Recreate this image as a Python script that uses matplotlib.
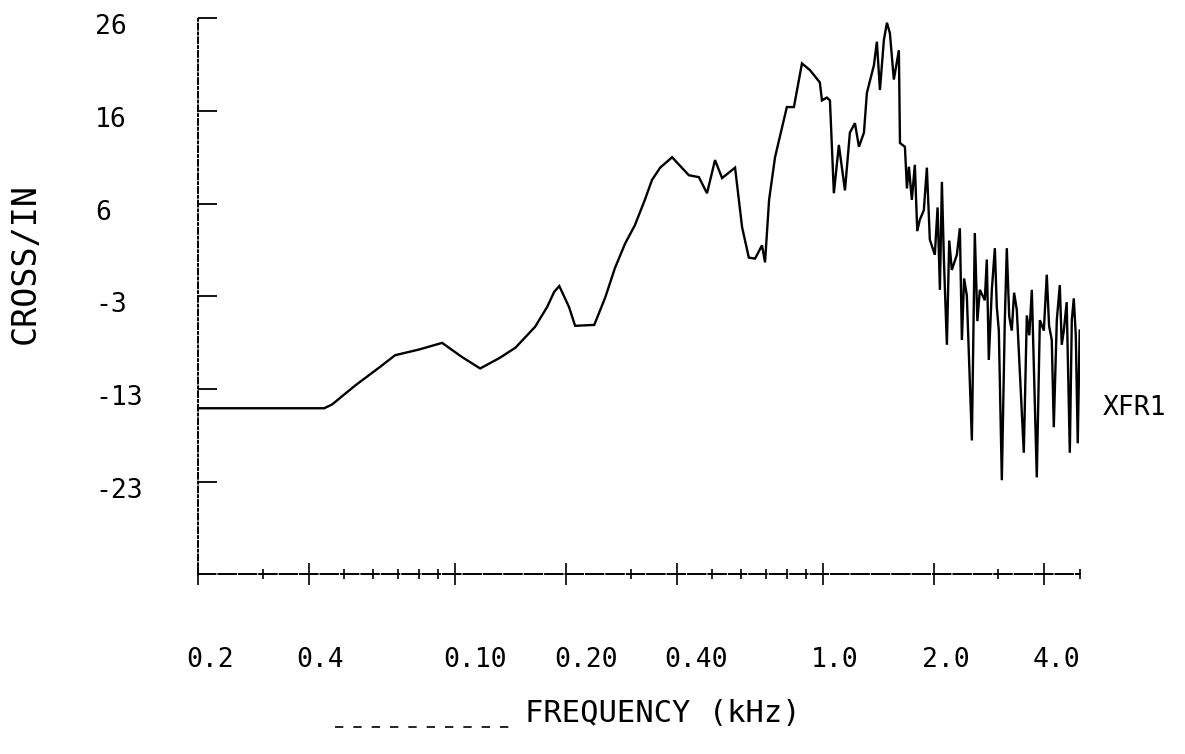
import numpy as np
import matplotlib.pyplot as plt
from matplotlib.transforms import blended_transform_factory, ScaledTranslation
from matplotlib.lines import Line2D

# frequency (kHz) and CROSS/IN level
freq = [0.0202, 0.0441, 0.0463, 0.0535, 0.0622, 0.0687, 0.0798, 0.0922, 0.1045, 0.117,
        0.132, 0.146, 0.165, 0.178, 0.186, 0.192, 0.204, 0.212, 0.239, 0.256,
        0.272, 0.290, 0.308, 0.328, 0.343, 0.361, 0.389, 0.432, 0.460, 0.484,
        0.509, 0.532, 0.577, 0.603, 0.629, 0.654, 0.683, 0.696, 0.714, 0.741,
        0.760, 0.798, 0.834, 0.877, 0.922, 0.981, 0.994, 1.025, 1.045, 1.071,
        1.105, 1.148, 1.184, 1.222, 1.253, 1.293, 1.317, 1.376, 1.402, 1.429,
        1.465, 1.493, 1.521, 1.559, 1.609, 1.620,
        # noisy high-frequency part
        1.671, 1.692, 1.713, 1.745, 1.778, 1.805, 1.834, 1.881, 1.917, 1.953,
        2.015, 2.050, 2.080, 2.106, 2.133, 2.173, 2.205, 2.241, 2.313, 2.357,
        2.387, 2.420, 2.462, 2.541, 2.588, 2.630, 2.671, 2.755, 2.790, 2.825,
        2.879, 2.934, 2.970, 3.008, 3.065, 3.123, 3.162, 3.210, 3.262, 3.310,
        3.366, 3.430, 3.517, 3.584, 3.640, 3.698, 3.815, 3.889, 3.987, 4.061,
        4.120, 4.190, 4.243, 4.324, 4.406, 4.460, 4.518, 4.600, 4.691, 4.750,
        4.809, 4.870, 4.930, 4.990]
level = [-15.2, -15.2, -14.8, -12.8, -10.9, -9.6, -9.0, -8.3, -9.8, -11.0,
         -9.9, -8.8, -6.6, -4.5, -2.9, -2.3, -4.5, -6.5, -6.4, -3.5,
         -0.4, 2.2, 4.1, 6.8, 8.9, 10.2, 11.3, 9.4, 9.2, 7.5,
         11.0, 9.1, 10.2, 3.9, 0.7, 0.6, 2.0, 0.2, 6.8, 11.3,
         13.1, 16.6, 16.6, 21.2, 20.5, 19.2, 17.3, 17.6, 17.3, 7.5,
         12.6, 7.8, 13.9, 14.9, 12.4, 13.9, 18.1, 21.0, 23.5, 18.4,
         23.7, 25.5, 24.4, 19.5, 22.6, 12.8,
         12.4, 8.0, 10.3, 6.8, 10.5, 3.5, 4.7, 5.7, 10.2, 2.6,
         1.0, 6.0, -2.7, 8.7, 0.4, -8.5, 2.5, -0.6, 1.0, 3.8,
         -8.0, -1.5, -3.3, -18.6, 3.3, -6.0, -2.7, -3.8, 0.5, -10.1,
         -2.7, 1.7, -4.5, -7.0, -22.8, -5.9, 1.7, -5.5, -7.0, -3.0,
         -4.8, -11.2, -19.9, -5.4, -7.5, -2.7, -22.5, -5.9, -7.0, -1.1,
         -6.5, -8.0, -17.2, -5.9, -2.2, -8.5, -7.0, -4.0, -19.9, -5.9,
         -3.6, -7.5, -18.9, -7.0]

xticks = [0.02, 0.04, 0.1, 0.2, 0.4, 1.0, 2.0, 4.0]
xticklabels = ['0.2', '0.4', '0.10', '0.20', '0.40', '1.0', '2.0', '4.0']
xminor = [0.03, 0.05, 0.06, 0.07, 0.08, 0.09, 0.3, 0.5, 0.6, 0.7, 0.8, 0.9, 3.0, 5.0]
yticks = [26, 16.2, 6.4, -3.4, -13.2, -23.0]
yticklabels = ['26', '16', '6', '-3', '-13', '-23']

plt.rcParams['font.family'] = ['DejaVu Sans Mono', 'DejaVu Sans']

fig = plt.figure(figsize=(11.85, 7.54), dpi=100)
ax = fig.add_axes([198 / 1185, 1 - 574 / 754, 882 / 1185, 556 / 754])

ax.plot(freq, level, color='black', lw=1.7, solid_joinstyle='miter')

ax.set_xscale('log')
ax.set_xlim(0.02, 5.0)
ax.set_ylim(-32.7, 26)

for s in ['top', 'right']:
    ax.spines[s].set_visible(False)
ax.spines['left'].set_linestyle((0, (3, 1.5, 1, 1.5)))
ax.spines['left'].set_linewidth(1.4)
ax.spines['bottom'].set_linestyle((0, (9, 1.5)))
ax.spines['bottom'].set_linewidth(1.4)

ax.set_xticks(xticks)
ax.set_xticks(xminor, minor=True)
ax.set_xticklabels([])
ax.set_xticklabels([], minor=True)
ax.set_yticks(yticks)
ax.set_yticklabels([])
ax.tick_params(axis='x', which='major', direction='inout', length=16, width=1.2)
ax.tick_params(axis='x', which='minor', direction='inout', length=7, width=1.2)
ax.tick_params(axis='y', direction='in', length=14, width=1.3)

# tick labels placed like the plotter did: left-aligned, offset from the ticks
xtr = blended_transform_factory(ax.transData, ax.transAxes) + \
    ScaledTranslation(-12 / 100, -86 / 100, fig.dpi_scale_trans)
for f, lab in zip(xticks, xticklabels):
    ax.text(f, 0, lab, transform=xtr, ha='left', va='center', fontsize=19)

ytr = blended_transform_factory(ax.transAxes, ax.transData) + \
    ScaledTranslation(-103 / 100, -9 / 100, fig.dpi_scale_trans)
for v, lab in zip(yticks, yticklabels):
    ax.text(0, v, lab, transform=ytr, ha='left', va='center', fontsize=19)

fig.text(25 / 1185, 1 - 264 / 754, 'CROSS/IN', rotation=90, ha='center', va='center',
         fontsize=24)
fig.text(663 / 1185, 1 - 713 / 754, 'FREQUENCY (kHz)', ha='center', va='center',
         fontsize=22)
fig.add_artist(Line2D([335 / 1185, 512 / 1185], [1 - 727 / 754] * 2, color='black',
                      lw=1.2, ls=(0, (5, 6))))
fig.text(1103 / 1185, 1 - 408 / 754, 'XFR1', ha='left', va='center', fontsize=19)

plt.savefig('out.png', dpi=100)
